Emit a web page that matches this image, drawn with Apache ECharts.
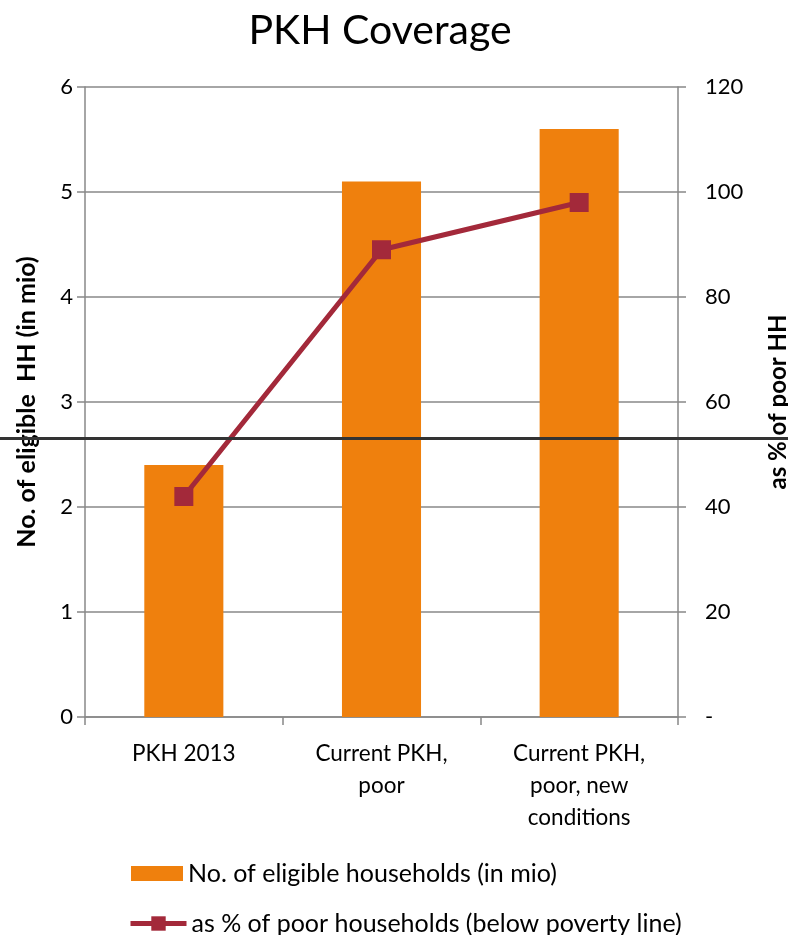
<!DOCTYPE html>
<html>
<head>
<meta charset="utf-8">
<script src="https://cdn.jsdelivr.net/npm/echarts@6/dist/echarts.min.js"></script>
<style>
html,body{margin:0;padding:0;background:#fff;}
#chart{width:788px;height:935px;}
</style>
</head>
<body>
<div id="chart"></div>
<script>
var categories = ['PKH 2013', 'Current PKH,\npoor', 'Current PKH,\npoor, new\nconditions'];
var householdsMio = [2.4, 5.1, 5.6];
var pctOfPoor = [42, 89, 98];
var leftTicks = [0, 1, 2, 3, 4, 5, 6];
var rightTicks = ['-', '20', '40', '60', '80', '100', '120'];
var seriesNames = ['No. of eligible households (in mio)', 'as % of poor households (below poverty line)'];

var FONT = 'Lato, "Open Sans", sans-serif';
var chart = echarts.init(document.getElementById('chart'));
chart.setOption({
  animation: false,
  backgroundColor: '#fff',
  textStyle: {fontFamily: FONT},
  title: {
    text: 'PKH Coverage', left: 375, top: 5, textAlign: 'center',
    textStyle: {fontFamily: FONT, fontSize: 41, fontWeight: 'normal', color: '#000'}
  },
  grid: {left: 85, right: 110, top: 87, bottom: 218, containLabel: false, outerBoundsMode: 'none'},
  legend: [
    {
      left: 131, top: 861, itemWidth: 52, itemHeight: 15, padding: 0,
      textStyle: {fontFamily: FONT, fontSize: 25, color: '#000', padding: [0,0,0,0]},
      data: [{name: seriesNames[0], icon: 'rect'}]
    },
    {
      left: 128, top: 911, itemWidth: 56, itemHeight: 18, padding: 0,
      lineStyle: {width: 5},
      textStyle: {fontFamily: FONT, fontSize: 25, color: '#000', padding: [0,0,0,0]},
      data: [{name: seriesNames[1]}]
    }
  ],
  xAxis: {
    type: 'category', data: categories,
    axisLine: {lineStyle: {color: '#888', width: 1.5}},
    axisTick: {show: true, length: 8, alignWithLabel: false, lineStyle: {color: '#888', width: 1.5}},
    axisLabel: {fontFamily: FONT, fontSize: 22.5, color: '#000', margin: 21, lineHeight: 32, interval: 0}
  },
  yAxis: [
    {
      type: 'value', min: 0, max: 6, interval: 1,
      name: 'No. of eligible  HH (in mio)', nameLocation: 'middle', nameRotate: 90, nameGap: 46,
      nameTextStyle: {fontFamily: FONT, fontSize: 25, fontWeight: 'bold', color: '#000'},
      axisLine: {show: true, lineStyle: {color: '#888', width: 1.5}},
      axisTick: {show: true, length: 8, lineStyle: {color: '#888', width: 1.5}},
      axisLabel: {fontFamily: FONT, fontSize: 22, color: '#000', margin: 12,
        formatter: function (v) { return String(leftTicks[Math.round(v)]); }},
      splitLine: {show: true, lineStyle: {color: '#888', width: 1.5}}
    },
    {
      type: 'value', min: 0, max: 120, interval: 20, position: 'right',
      name: 'as % of poor HH', nameLocation: 'middle', nameRotate: 90, nameGap: 88,
      nameTextStyle: {fontFamily: FONT, fontSize: 24, fontWeight: 'bold', color: '#000'},
      axisLine: {show: true, lineStyle: {color: '#888', width: 1.5}},
      axisTick: {show: true, length: 8, lineStyle: {color: '#888', width: 1.5}},
      axisLabel: {fontFamily: FONT, fontSize: 22, color: '#000', margin: 27,
        formatter: function (v) { return rightTicks[Math.round(v / 20)]; }},
      splitLine: {show: false}
    }
  ],
  series: [
    {
      name: seriesNames[0], type: 'bar', yAxisIndex: 0,
      data: householdsMio, barWidth: '40%',
      itemStyle: {color: '#EF800D'}
    },
    {
      name: seriesNames[1], type: 'line', yAxisIndex: 1,
      data: pctOfPoor, symbol: 'rect', symbolSize: 19,
      lineStyle: {color: '#A3293A', width: 5},
      itemStyle: {color: '#A3293A'}
    }
  ],
  graphic: [
    {type: 'rect', left: 0, top: 437, shape: {width: 788, height: 3}, style: {fill: '#333'}, z: 100}
  ]
});
</script>
</body>
</html>
